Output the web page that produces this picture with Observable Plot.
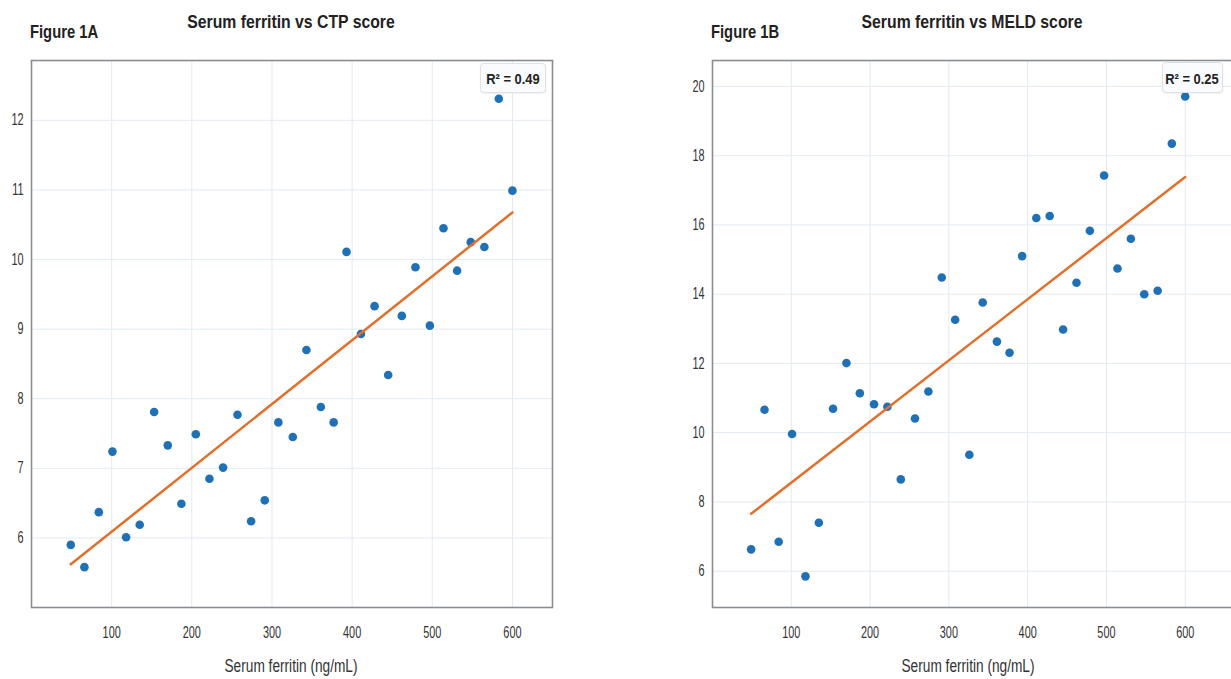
<!DOCTYPE html>
<html>
<head>
<meta charset="utf-8">
<script src="https://cdn.jsdelivr.net/npm/d3@7"></script>
<script src="https://cdn.jsdelivr.net/npm/@observablehq/plot@0.6"></script>
<style>
  html, body { margin: 0; padding: 0; }
  body { width: 1231px; height: 679px; overflow: hidden; background: #fff; position: relative;
         font-family: 'Liberation Sans', Arial, sans-serif; }
  .abs { position: absolute; white-space: nowrap; line-height: 1; }
  .fig { font-weight: bold; font-size: 18px; color: #222; transform-origin: 0 0; transform: scaleX(0.82); }
  .title { font-weight: bold; font-size: 19px; color: #222; transform-origin: 0 0; transform: scaleX(0.83) translateX(-50%); }
  .xlab { font-size: 18px; color: #333; transform-origin: 0 0; transform: scaleX(0.76) translateX(-50%); }
  .r2box { border: 1px solid #dde2e8; border-radius: 4px; background: #fafbfd; box-sizing: border-box;
           box-shadow: 0 1px 2px rgba(0,0,0,0.06); }
  .r2 { font-weight: bold; font-size: 15px; color: #222; transform-origin: 0 0; transform: scaleX(0.86) translateX(-50%); }
  .panel { position: absolute; }
</style>
</head>
<body>
<div id="root"></div>
<script>
// ---- Data ----
const ferritin = [49, 66, 84, 101, 118, 135, 153, 170, 187, 205, 222, 239, 257, 274, 291, 308, 326,
                  343, 361, 377, 393, 411, 428, 445, 462, 479, 497, 514, 531, 548, 565, 583, 600];
const ctpScore = [5.90, 5.58, 6.37, 7.24, 6.01, 6.19, 7.81, 7.33, 6.49, 7.49, 6.85, 7.01, 7.77, 6.24, 6.54, 7.66, 7.45,
                  8.70, 7.88, 7.66, 10.11, 8.93, 9.33, 8.34, 9.19, 9.89, 9.05, 10.45, 9.84, 10.25, 10.18, 12.31, 10.99];
const meldScore = [6.63, 10.66, 6.85, 9.96, 5.85, 7.40, 10.69, 12.01, 11.14, 10.82, 10.75, 8.65, 10.41, 11.19, 14.48, 13.26, 9.36,
                   13.76, 12.63, 12.31, 15.10, 16.20, 16.26, 12.98, 14.33, 15.83, 17.43, 14.74, 15.60, 14.00, 14.10, 18.35, 19.71];

const xTicks = [100, 200, 300, 400, 500, 600];
const ctpTicks = [6, 7, 8, 9, 10, 11, 12];
const meldTicks = [6, 8, 10, 12, 14, 16, 18, 20];

const figureLabels = ["Figure 1A", "Figure 1B"];
const titles = ["Serum ferritin vs CTP score", "Serum ferritin vs MELD score"];
const r2Labels = ["R² = 0.49", "R² = 0.25"];
const xLabel = "Serum ferritin (ng/mL)";

const FONT = "'Liberation Sans', Arial, sans-serif";
const DOT = "#1f70b5";
const LINE = "#e2702b";
const GRID = "#e3eaf0";
const FRAME = "#8a8e93";
const TICK_SQUEEZE = 0.68;

function panel({yValues, yDomain, yTicks, xDomain, width, marginLeft, marginRight}) {
  const data = ferritin.map((x, i) => ({x, y: yValues[i]}));
  const svg = Plot.plot({
    width, height: 600,
    marginLeft, marginRight, marginTop: 10, marginBottom: 43,
    style: {fontFamily: FONT, fontSize: "16px", color: "#333", background: "transparent", overflow: "visible"},
    x: {domain: xDomain, axis: null},
    y: {domain: yDomain, axis: null},
    marks: [
      Plot.gridX(xTicks, {stroke: GRID, strokeOpacity: 1, strokeWidth: 1}),
      Plot.gridY(yTicks, {stroke: GRID, strokeOpacity: 1, strokeWidth: 1}),
      Plot.frame({stroke: FRAME, strokeWidth: 1.6}),
      Plot.dot(data, {x: "x", y: "y", r: 4.3, fill: DOT, stroke: "none"}),
      Plot.linearRegressionY(data, {x: "x", y: "y", stroke: LINE, strokeWidth: 2.5, ci: 0}),
      Plot.axisX(xTicks, {tickSize: 0, tickPadding: 19, label: null, fill: "#333", tickFormat: d3.format("d")}),
      Plot.axisY(yTicks, {tickSize: 0, tickPadding: 8, label: null, fill: "#333", tickFormat: d3.format("d")})
    ]
  });
  // Narrow the tick label glyphs horizontally around their anchor point (the reference uses a condensed face)
  svg.querySelectorAll("text").forEach(t => {
    const x = +(t.getAttribute("x") || 0);
    const tr = t.getAttribute("transform") || "";
    t.setAttribute("transform", `${tr} translate(${x},0) scale(${TICK_SQUEEZE},1) translate(${-x},0)`);
  });
  return svg;
}

const root = document.getElementById("root");

function place(el, left, top) {
  el.classList.add("panel");
  el.style.left = left + "px";
  el.style.top = top + "px";
  root.appendChild(el);
}
function textDiv(cls, txt, left, top, extra) {
  const d = document.createElement("div");
  d.className = "abs " + cls;
  d.textContent = txt;
  d.style.left = left + "px";
  d.style.top = top + "px";
  if (extra) Object.assign(d.style, extra);
  root.appendChild(d);
  return d;
}

// Left panel (CTP)
place(panel({yValues: ctpScore, yDomain: [5.0, 12.86], yTicks: ctpTicks, xDomain: [0, 650],
             width: 560, marginLeft: 31, marginRight: 8}), 0, 50);
// Right panel (MELD)
place(panel({yValues: meldScore, yDomain: [4.95, 20.75], yTicks: meldTicks, xDomain: [0, 660],
             width: 570, marginLeft: 40, marginRight: 10}), 672, 50);

textDiv("fig", figureLabels[0], 30, 23);
textDiv("fig", figureLabels[1], 711, 23);
textDiv("title", titles[0], 291, 12);
textDiv("title", titles[1], 972, 12);
textDiv("xlab", xLabel, 291, 657);
textDiv("xlab", xLabel, 968, 657);
// R² annotation boxes
const b1 = textDiv("r2box", "", 480, 63, {width: "66px", height: "30px"});
const b2 = textDiv("r2box", "", 1162, 62, {width: "61px", height: "31px"});
textDiv("r2", r2Labels[0], 513, 71);
textDiv("r2", r2Labels[1], 1192, 71);
</script>
</body>
</html>
